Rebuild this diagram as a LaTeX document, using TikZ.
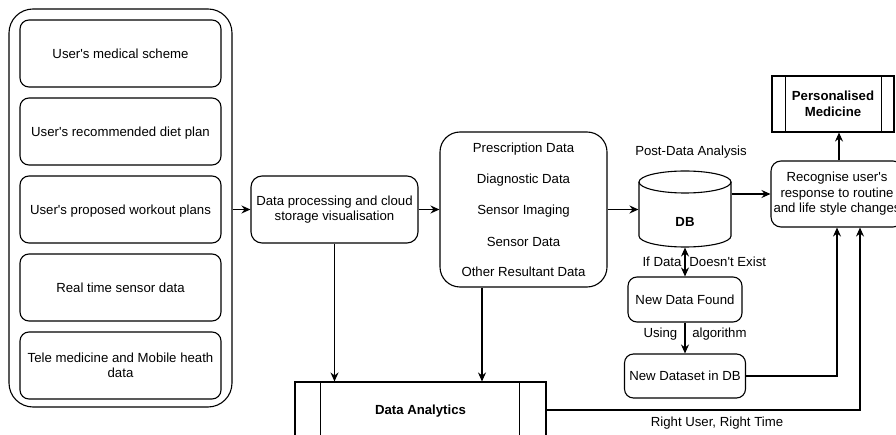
\documentclass[tikz,border=0pt]{standalone}
\usepackage{fontspec}
\setmainfont{Liberation Sans}
\usetikzlibrary{arrows.meta}
\newcommand{\ap}{\textquotesingle}

\begin{document}
\begin{tikzpicture}[x=1pt, y=-1pt, line width=1.1pt,
  every node/.style={font=\fontsize{13.2}{15.5}\selectfont, inner sep=0pt},
  rbox/.style={draw, rounded corners=#1, align=center},
  rbox/.default=9pt,
  one/.style={text height=9.4pt, text depth=0pt},
  procbox/.style={draw, align=center, font=\fontsize{13.2}{15.5}\selectfont\bfseries},
  arr/.style={-{Stealth[length=9pt, width=8pt, inset=3pt]}},
  arrboth/.style={{Stealth[length=9pt, width=8pt, inset=3pt]}-{Stealth[length=9pt, width=8pt, inset=3pt]}}
]
\useasboundingbox (0,0) rectangle (896,435);
\fill[white] (0,0) rectangle (896,435);
\clip (0,0) rectangle (896,435);

% input sources grouped in one container
\node[rbox=24pt, minimum width=223pt, minimum height=398pt] (group) at (120.5,208) {};
\node[rbox, one, minimum width=201pt, minimum height=67pt] (s1) at (120.5,53.5) {User\ap s medical scheme};
\node[rbox, one, minimum width=201pt, minimum height=67pt] (s2) at (120.5,131.5) {User\ap s recommended diet plan};
\node[rbox, one, minimum width=201pt, minimum height=67pt] (s3) at (120.5,209.5) {User\ap s proposed workout plans};
\node[rbox, one, minimum width=201pt, minimum height=67pt] (s4) at (120.5,287.5) {Real time sensor data};
\node[rbox, minimum width=201pt, minimum height=67pt] (s5) at (120.5,365.5) {Tele medicine and Mobile heath\\data};

% processing stage
\node[rbox=11pt, minimum width=167pt, minimum height=67pt] (dp) at (334.5,209.5) {Data processing and cloud\\storage visualisation};

% collected data
\node[rbox=20pt, minimum width=167pt, minimum height=155pt] (data) at (523.5,209.5) {};
\node[one] (d1) at (523.5,148) {Prescription Data};
\node[one] (d2) at (523.5,179) {Diagnostic Data};
\node[one] (d3) at (523.5,210) {Sensor Imaging};
\node[one] (d4) at (523.5,242) {Sensor Data};
\node[one] (d5) at (523.5,272) {Other Resultant Data};

% database cylinder
\node[minimum width=92pt, minimum height=76pt] (db) at (685,209) {};
\draw[fill=white] (639,182) -- (639,236) arc[start angle=180, end angle=360, x radius=46pt, y radius=11pt] -- (731,182);
\draw (685,182) ellipse [x radius=46pt, y radius=11pt];
\node[one, font=\fontsize{13.2}{15.5}\selectfont\bfseries] (dbl) at (685,222) {DB};
\node[one] (post) at (691,151) {Post-Data Analysis};

% new data path
\node[rbox, one, minimum width=114pt, minimum height=45pt] (ndf) at (685,299.5) {New Data Found};
\node[rbox, one, minimum width=121pt, minimum height=44pt] (nds) at (685,376) {New Dataset in DB};

% recognition and outcome
\node[rbox=10pt, minimum width=132pt, minimum height=66pt] (recog) at (837,194) {Recognise user\ap s\\response to routine\\and life style changes};
\node[procbox, minimum width=122pt, minimum height=56pt] (pm) at (833,104) {Personalised\\Medicine};
\draw ([xshift=14pt]pm.north west) -- ([xshift=14pt]pm.south west);
\draw ([xshift=-13pt]pm.north east) -- ([xshift=-13pt]pm.south east);

% analytics
\node[procbox, one, minimum width=251pt, minimum height=56pt] (da) at (420.5,410) {Data Analytics};
\draw ([xshift=26pt]da.north west) -- ([xshift=26pt]da.south west);
\draw ([xshift=-27pt]da.north east) -- ([xshift=-27pt]da.south east);

% connectors
\coordinate (dax) at (482,0);
\coordinate (pmx) at (839,0);
\draw[arr] (group.east |- dp.west) -- (dp.west);
\draw[arr] (dp.east) -- (data.west);
\draw[arr] (data.east) -- (data.east -| db.west);
\draw[arr] (recog.west -| db.east) -- (recog.west);
\draw[arr] (recog.north -| pmx) -- (pm.south -| pmx);
\draw[arr] (dp.south) -- (dp.south |- da.north);
\draw[arr] (data.south -| dax) -- (dax |- da.north);
\draw[arrboth] (db.south) -- (ndf.north);
\draw[arr] (ndf.south) -- (nds.north);
\draw[arr] (nds.east) -| (recog.south);
\draw[arr] (da.east) -| ([xshift=23pt]recog.south);

% connector labels
\node[one, anchor=west] (lexist) at (642,262) {If Data\hspace{8pt}Doesn\ap t Exist};
\node[one, anchor=west] (lalgo) at (643,333) {Using\hspace{15pt}algorithm};
\node[one] (lright) at (717,422) {Right User, Right Time};
\end{tikzpicture}
\end{document}
